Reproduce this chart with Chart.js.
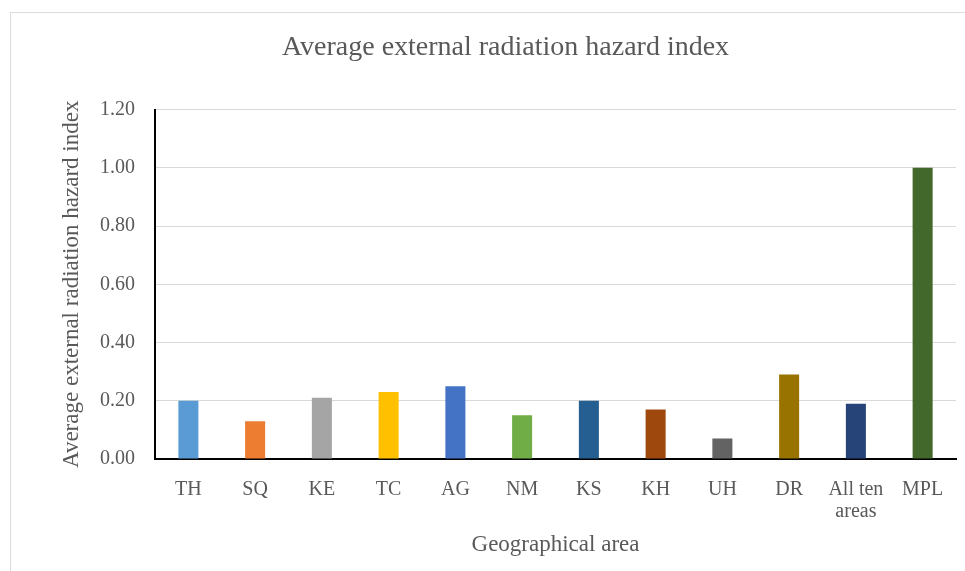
<!DOCTYPE html>
<html>
<head>
<meta charset="utf-8">
<script src="https://cdn.jsdelivr.net/npm/chart.js@4/dist/chart.umd.min.js"></script>
<style>
  html, body { margin: 0; padding: 0; background: #fff; overflow: hidden; }
  #frame {
    position: absolute; left: 10px; top: 12px; width: 1000px; height: 620px;
    border: 1px solid #dcdcdc; box-sizing: border-box;
  }
  #chart { position: absolute; left: 0; top: 0; }
</style>
</head>
<body>
<div id="frame"></div>
<canvas id="chart" width="965" height="571"></canvas>
<script>
// Geographical areas and their average external radiation hazard index
const areas = ['TH', 'SQ', 'KE', 'TC', 'AG', 'NM', 'KS', 'KH', 'UH', 'DR', ['All ten', 'areas'], 'MPL'];
const hazardIndex = [0.20, 0.13, 0.21, 0.23, 0.25, 0.15, 0.20, 0.17, 0.07, 0.29, 0.19, 1.00];
const barColors = ['#5B9BD5', '#ED7D31', '#A5A5A5', '#FFC000', '#4472C4', '#70AD47',
                   '#255E91', '#9E480E', '#636363', '#997300', '#264478', '#43682B'];
const yTicks = [0, 0.2, 0.4, 0.6, 0.8, 1.0, 1.2];

const serif = '"Liberation Serif", "Times New Roman", serif';
const textGray = '#595959';

new Chart(document.getElementById('chart'), {
  type: 'bar',
  data: {
    labels: areas,
    datasets: [{
      data: hazardIndex,
      backgroundColor: barColors,
      borderWidth: 0,
      barPercentage: 0.3,
      categoryPercentage: 1.0
    }]
  },
  options: {
    responsive: false,
    animation: false,
    layout: { padding: { left: 55, right: 9, top: 0, bottom: 0 } },
    plugins: {
      legend: { display: false },
      tooltip: { enabled: false },
      title: {
        display: true,
        text: 'Average external radiation hazard index',
        color: textGray,
        font: { family: serif, size: 28, weight: 'normal' },
        padding: { top: 31, bottom: 45 }
      }
    },
    scales: {
      x: {
        grid: { display: false, drawTicks: false },
        border: { color: '#000', width: 2 },
        ticks: {
          color: textGray,
          font: { family: serif, size: 20, lineHeight: 1.1 },
          padding: 20,
          maxRotation: 0,
          autoSkip: false
        },
        title: {
          display: true,
          text: 'Geographical area',
          color: textGray,
          font: { family: serif, size: 23 },
          padding: { top: 0, bottom: 12 }
        },
        afterFit: (scale) => { scale.height = 112; }
      },
      y: {
        min: 0,
        max: 1.2,
        afterBuildTicks: (scale) => { scale.ticks = yTicks.map(v => ({ value: v })); },
        grid: { color: '#d9d9d9', lineWidth: 1, drawTicks: false },
        border: { color: '#000', width: 2 },
        ticks: {
          color: textGray,
          font: { family: serif, size: 20 },
          padding: 20,
          callback: (v) => Number(v).toFixed(2)
        },
        title: {
          display: true,
          text: 'Average external radiation hazard index',
          color: textGray,
          font: { family: serif, size: 23 },
          padding: { top: 3, bottom: 0 }
        },
        afterFit: (scale) => { scale.width = 100; }
      }
    }
  }
});
</script>
</body>
</html>
